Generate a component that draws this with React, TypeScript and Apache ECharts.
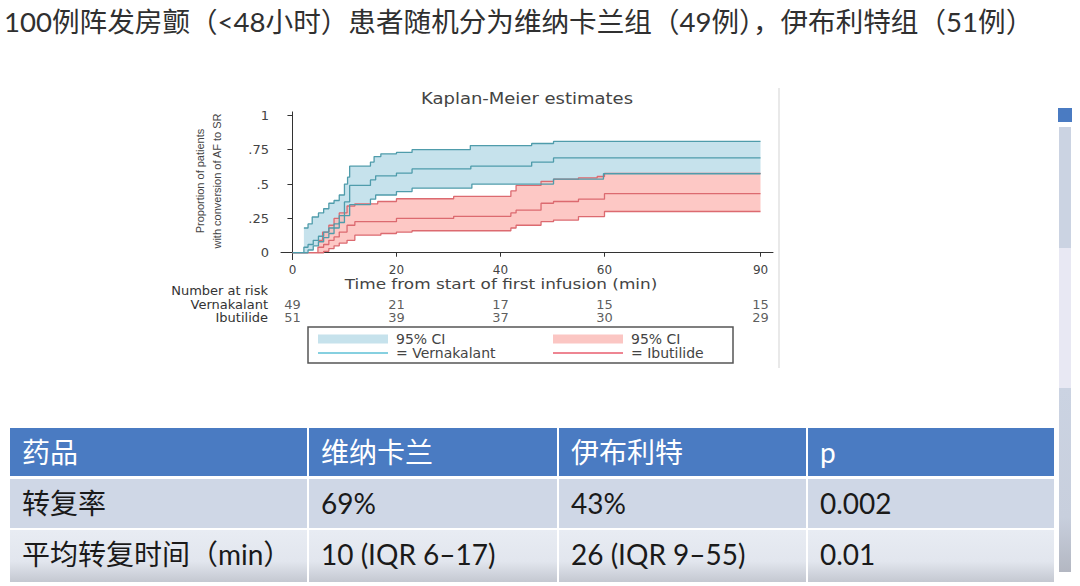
import React, { useEffect, useRef } from "react";
import * as echarts from "echarts";

// ---------- data ----------
const titleText = "100例阵发房颤（<48小时）患者随机分为维纳卡兰组（49例），伊布利特组（51例）";
const chartTitle = "Kaplan-Meier estimates";
const xTitle = "Time from start of first infusion (min)";
const yTitle = "Proportion of patients\nwith conversion of AF to SR";

const xTicks = [0, 20, 40, 60, 90];
const yTicks = [0, 0.25, 0.5, 0.75, 1];

// Kaplan-Meier step points [time (min), proportion]
const vernKM = [[0, 0], [2.2, 0.04], [3, 0.06], [4, 0.09], [5, 0.12], [6, 0.15], [7, 0.18], [8, 0.21], [9, 0.27], [10, 0.37], [11, 0.49], [15, 0.53], [16, 0.56], [20, 0.58], [23, 0.61], [34.3, 0.63], [46, 0.66], [50.2, 0.69], [90, 0.69]];
const vernUpper = [[2.2, 0.18], [3, 0.21], [3.8, 0.26], [5, 0.29], [6, 0.32], [7, 0.36], [8, 0.38], [9, 0.42], [10, 0.5], [10.6, 0.55], [11, 0.63], [15, 0.66], [15.7, 0.7], [17, 0.72], [20, 0.73], [23, 0.75], [34.2, 0.78], [46, 0.795], [50.2, 0.81], [90, 0.81]];
const vernLower = [[2.2, 0], [3, 0.02], [4, 0.05], [5, 0.08], [6, 0.11], [7, 0.14], [8, 0.18], [9, 0.22], [10, 0.27], [11, 0.35], [15, 0.39], [16, 0.42], [20, 0.445], [23, 0.47], [34.5, 0.5], [50.2, 0.535], [59.8, 0.575], [90, 0.575]];

const ibutKM = [[0, 0], [4.9, 0.04], [6, 0.06], [7, 0.09], [8, 0.115], [9, 0.15], [10.5, 0.2], [12, 0.226], [20, 0.25], [31, 0.265], [42, 0.29], [43, 0.31], [47.8, 0.36], [50.2, 0.373], [55, 0.39], [60, 0.43], [90, 0.43]];
const ibutUpper = [[4.9, 0.09], [5.8, 0.15], [7, 0.2], [8, 0.25], [9, 0.29], [10.5, 0.34], [12, 0.356], [16.4, 0.373], [20, 0.393], [31, 0.41], [42, 0.45], [43, 0.49], [47.8, 0.52], [50.2, 0.535], [55, 0.545], [58.6, 0.555], [60, 0.578], [90, 0.578]];
const ibutLower = [[4.9, 0], [6, 0.01], [7, 0.03], [8, 0.05], [9, 0.07], [10.5, 0.09], [12, 0.128], [17, 0.14], [20, 0.15], [23, 0.16], [42, 0.18], [43, 0.2], [47.8, 0.226], [50.2, 0.238], [55, 0.263], [60, 0.3], [90, 0.3]];

// Number at risk
const riskTimes = [0, 20, 40, 60, 90];
const riskRows = ["Number at risk", "Vernakalant", "Ibutilide"];
const riskVern = [49, 21, 17, 15, 15];
const riskIbut = [51, 39, 37, 30, 29];

// Table
const tableHeader = ["药品", "维纳卡兰", "伊布利特", "p"];
const tableRow1 = ["转复率", "69%", "43%", "0.002"];
const tableRow2 = ["平均转复时间（min）", "10 (IQR 6–17)", "26 (IQR 9–55)", "0.01"];

// ---------- styles ----------
const SANS = '"DejaVu Sans", Verdana, sans-serif';
const CJK = 'Lato, "Noto Sans CJK SC", sans-serif';
const BLUE_BAND = "#c6e2ec";
const RED_BAND = "rgba(252,188,184,0.82)";
const BLUE_LINE = "#4f9cab";
const RED_LINE = "#dc6a70";

function stepPoints(arr: number[][]) {
  const out: number[][] = [];
  for (let i = 0; i < arr.length; i++) {
    out.push([arr[i][0], arr[i][1]]);
    if (i + 1 < arr.length) out.push([arr[i + 1][0], arr[i][1]]);
  }
  return out;
}

function bandSeries(name: string, upper: number[][], lower: number[][], color: string, z: number) {
  return {
    type: "custom",
    name,
    xAxisIndex: 0,
    yAxisIndex: 0,
    z,
    silent: true,
    itemStyle: { color },
    data: [[upper[0][0], upper[0][1]]],
    renderItem: (_params: any, api: any) => {
      const pts: number[][] = [];
      stepPoints(upper).forEach((p) => pts.push(api.coord(p)));
      stepPoints(lower).reverse().forEach((p) => pts.push(api.coord(p)));
      return { type: "polygon", shape: { points: pts }, style: { fill: color } };
    },
  };
}

function stepLine(name: string, data: number[][], color: string, z: number) {
  return {
    type: "line",
    name,
    xAxisIndex: 0,
    yAxisIndex: 0,
    step: "end",
    symbol: "none",
    z,
    silent: true,
    data,
    lineStyle: { color, width: 1.3 },
    itemStyle: { color },
  };
}

const LINE_ICON = "path://M0,0H70V2H0Z";

export default function App() {
  const ref = useRef<HTMLDivElement>(null);
  useEffect(() => {
    if (!ref.current) return;
    const chart = echarts.init(ref.current, null, { renderer: "svg" });

    const gridLeft = 281;
    const gridRight = 307;
    const xMin = -2.2;
    const xMax = 92.4;

    const tableGraphics: any[] = [];
    const colX = [10, 309, 559, 808];
    const colW = [297, 248, 247, 246];
    const rowY = [428, 479, 530];
    const rowH = [48, 49, 52];
    const rows = [tableHeader, tableRow1, tableRow2];
    rows.forEach((row, r) => {
      row.forEach((txt, c) => {
        let fill: any = r === 0 ? "#4a7bc2" : r === 1 ? "#cfd7e6" : {
          type: "linear", x: 0, y: 0, x2: 0, y2: 1,
          colorStops: [{ offset: 0, color: "#e8ecf3" }, { offset: 0.6, color: "#e2e6ee" }, { offset: 1, color: "#c4c8d1" }],
        };
        tableGraphics.push({
          type: "rect",
          shape: { x: colX[c], y: rowY[r], width: colW[c], height: rowH[r] },
          style: { fill },
          silent: true,
        });
        tableGraphics.push({
          type: "text",
          x: colX[c] + 12,
          y: rowY[r] + 24,
          style: {
            text: txt,
            fill: r === 0 ? "#ffffff" : "#1a1a1a",
            fontSize: 28,
            fontFamily: CJK,
            align: "left",
            verticalAlign: "middle",
          },
          silent: true,
        });
      });
    });

    const legendText = { fontSize: 14, fontFamily: SANS, color: "#444", lineHeight: 12, padding: [0, 0, 0, 3] };

    const option: any = {
      animation: false,
      backgroundColor: "#ffffff",
      grid: [
        { left: gridLeft, right: gridRight, top: 111.9, bottom: 586 - 259.6 },
        { left: gridLeft, right: gridRight, top: 284, height: 40.5 },
      ],
      xAxis: [
        {
          type: "value",
          gridIndex: 0,
          min: xMin,
          max: xMax,
          splitLine: { show: false },
          axisLine: { show: true, lineStyle: { color: "#333", width: 1 } },
          axisTick: { show: true, length: 4, customValues: xTicks, lineStyle: { color: "#333" } },
          axisLabel: { customValues: xTicks, margin: 4, fontSize: 12, fontFamily: SANS, color: "#444" },
        },
        { type: "value", gridIndex: 1, min: xMin, max: xMax, show: false },
      ],
      yAxis: [
        {
          type: "value",
          gridIndex: 0,
          min: -0.05,
          max: 1.025,
          splitLine: { show: false },
          axisLine: { show: true, lineStyle: { color: "#333", width: 1 } },
          axisTick: { show: true, length: 5, customValues: yTicks, lineStyle: { color: "#333" } },
          axisLabel: {
            customValues: yTicks,
            margin: 12,
            fontSize: 13,
            fontFamily: SANS,
            color: "#444",
            formatter: (v: number) => (v === 0 ? "0" : v === 1 ? "1" : String(v).replace(/^0/, "")),
          },
        },
        {
          type: "category",
          gridIndex: 1,
          inverse: true,
          data: riskRows,
          axisLine: { show: false },
          axisTick: { show: false },
          axisLabel: { interval: 0, margin: 13, fontSize: 13, lineHeight: 13, fontFamily: SANS, color: "#333" },
        },
      ],
      legend: [
        {
          left: 318,
          top: 332,
          padding: 0,
          orient: "vertical",
          itemWidth: 70,
          itemHeight: 9,
          itemGap: 0,
          selectedMode: false,
          textStyle: legendText,
          formatter: (n: string) => (n === "Vernakalant" ? "= Vernakalant" : "95% CI"),
          data: [
            { name: "Vernakalant 95% CI", icon: "rect", itemStyle: { color: BLUE_BAND } },
            { name: "Vernakalant", icon: LINE_ICON, itemStyle: { color: "#86d0e0" } },
          ],
        },
        {
          left: 553,
          top: 332,
          padding: 0,
          orient: "vertical",
          itemWidth: 70,
          itemHeight: 9,
          itemGap: 0,
          selectedMode: false,
          textStyle: legendText,
          formatter: (n: string) => (n === "Ibutilide" ? "= Ibutilide" : "95% CI"),
          data: [
            { name: "Ibutilide 95% CI", icon: "rect", itemStyle: { color: "#fbc6c3" } },
            { name: "Ibutilide", icon: LINE_ICON, itemStyle: { color: "#ee8592" } },
          ],
        },
      ],
      series: [
        bandSeries("Vernakalant 95% CI", vernUpper, vernLower, BLUE_BAND, 1),
        bandSeries("Ibutilide 95% CI", ibutUpper, ibutLower, RED_BAND, 2),
        stepLine("Vernakalant upper", vernUpper, BLUE_LINE, 4),
        stepLine("Vernakalant lower", vernLower, BLUE_LINE, 4),
        stepLine("Vernakalant", vernKM, BLUE_LINE, 5),
        stepLine("Ibutilide upper", ibutUpper, RED_LINE, 3),
        stepLine("Ibutilide lower", ibutLower, RED_LINE, 3),
        stepLine("Ibutilide", ibutKM, RED_LINE, 3),
        {
          type: "scatter",
          name: "risk",
          xAxisIndex: 1,
          yAxisIndex: 1,
          symbolSize: 1,
          silent: true,
          itemStyle: { color: "rgba(0,0,0,0)" },
          label: {
            show: true,
            position: "inside",
            formatter: (p: any) => String(p.value[2]),
            fontSize: 13,
            lineHeight: 13,
            fontFamily: SANS,
            color: "#333",
          },
          data: [
            ...riskTimes.map((t, i) => [t, "Vernakalant", riskVern[i]]),
            ...riskTimes.map((t, i) => [t, "Ibutilide", riskIbut[i]]),
          ],
        },
      ],
      graphic: [
        {
          type: "text",
          x: 4,
          y: 21,
          style: { text: titleText, fill: "#303030", fontSize: 27.6, fontFamily: CJK, align: "left", verticalAlign: "middle" },
          silent: true,
        },
        {
          type: "text",
          x: 527,
          y: 99,
          scaleX: 1.2,
          style: { text: chartTitle, fill: "#444", fontSize: 15, fontFamily: SANS, align: "center", verticalAlign: "middle" },
          silent: true,
        },
        {
          type: "text",
          x: 501,
          y: 285,
          scaleX: 1.25,
          style: { text: xTitle, fill: "#444", fontSize: 13.5, fontFamily: SANS, align: "center", verticalAlign: "middle" },
          silent: true,
        },
        {
          type: "text",
          x: 208,
          y: 181,
          rotation: Math.PI / 2,
          style: {
            text: yTitle,
            fill: "#444",
            fontSize: 11,
            lineHeight: 17,
            fontFamily: '"Liberation Sans Narrow", "Liberation Sans", sans-serif',
            align: "center",
            verticalAlign: "middle",
          },
          silent: true,
        },
        {
          type: "rect",
          shape: { x: 308, y: 327, width: 425, height: 36 },
          style: { fill: "none", stroke: "#555", lineWidth: 1.5 },
          silent: true,
        },
        {
          type: "line",
          shape: { x1: 779, y1: 88, x2: 779, y2: 368 },
          style: { stroke: "#e2e2e2", lineWidth: 1.5 },
          silent: true,
        },
        // scrollbar
        { type: "rect", shape: { x: 1058, y: 108, width: 14, height: 14 }, style: { fill: "#4a7bc2" }, silent: true },
        { type: "rect", shape: { x: 1059, y: 127, width: 12, height: 121 }, style: { fill: "#cbd3e2" }, silent: true },
        { type: "rect", shape: { x: 1059, y: 248, width: 12, height: 140 }, style: { fill: "#e8e8f3" }, silent: true },
        {
          type: "rect",
          shape: { x: 1059, y: 388, width: 12, height: 184 },
          style: {
            fill: {
              type: "linear", x: 0, y: 0, x2: 0, y2: 1,
              colorStops: [{ offset: 0, color: "#cbd3e2" }, { offset: 0.7, color: "#c8cfdd" }, { offset: 1, color: "#b3b7c2" }],
            },
          },
          silent: true,
        },
        ...tableGraphics,
      ],
    };
    chart.setOption(option);
    return () => chart.dispose();
  }, []);
  return (
    <div
      ref={ref}
      style={{ position: "fixed", left: 0, top: 0, width: 1080, height: 586, background: "#fff" }}
    />
  );
}
